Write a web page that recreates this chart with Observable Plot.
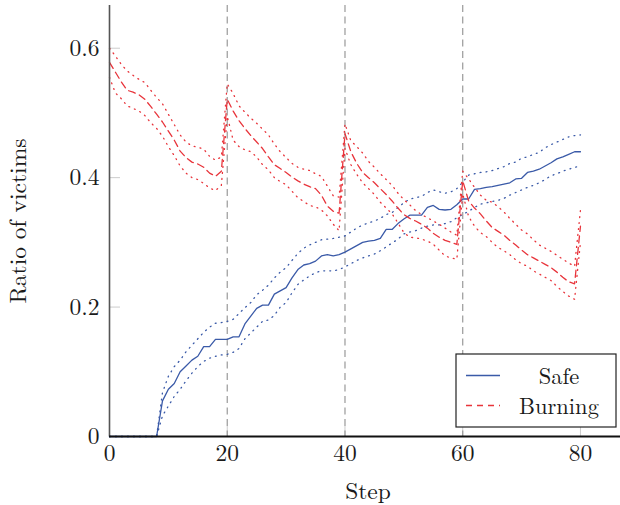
<!DOCTYPE html>
<html>
<head>
<meta charset="utf-8">
<script src="https://cdn.jsdelivr.net/npm/d3@7"></script>
<script src="https://cdn.jsdelivr.net/npm/@observablehq/plot@0.6"></script>
<style>
  html, body { margin: 0; padding: 0; background: #fff; }
  #wrap { width: 620px; height: 505px; }
  #wrap svg, #wrap svg text { font-family: 'Latin Modern Roman', 'Liberation Serif', serif; }
</style>
</head>
<body>
<div id="wrap"></div>
<script>
const steps = Array.from({length: 81}, (_, i) => i);
const markerSteps = [20, 40, 60];
const xTicks = [0, 20, 40, 60, 80];
const yTicks = [0, 0.2, 0.4, 0.6];
const yTickLabels = ["0", "0.2", "0.4", "0.6"];
const seriesNames = ["Safe", "Burning"];
const seriesColors = ["#3a5aa8", "#e8343b"];

const safeMean = [0,0,0,0,0,0,0,0,0,
  0.055,0.073,0.082,0.100,0.109,0.118,0.124,0.139,0.139,0.150,0.150,
  0.150,0.154,0.154,0.174,0.186,0.198,0.203,0.203,0.220,0.225,
  0.230,0.245,0.258,0.265,0.267,0.271,0.279,0.281,0.279,0.281,
  0.285,0.290,0.295,0.300,0.302,0.303,0.306,0.320,0.320,0.329,
  0.336,0.342,0.342,0.342,0.354,0.357,0.351,0.350,0.351,0.358,
  0.367,0.367,0.382,0.383,0.385,0.386,0.388,0.390,0.392,0.398,
  0.399,0.408,0.410,0.413,0.418,0.423,0.429,0.432,0.436,0.440,
  0.440];
const safeUpper = [0,0,0,0,0,0,0,0,0,
  0.068,0.093,0.108,0.118,0.131,0.141,0.151,0.161,0.169,0.175,0.176,
  0.178,0.181,0.190,0.199,0.207,0.219,0.226,0.234,0.245,0.254,
  0.261,0.272,0.283,0.291,0.296,0.300,0.304,0.305,0.306,0.308,
  0.310,0.316,0.322,0.327,0.330,0.333,0.337,0.343,0.346,0.354,
  0.361,0.367,0.369,0.371,0.377,0.381,0.378,0.376,0.378,0.383,
  0.393,0.404,0.406,0.408,0.409,0.411,0.414,0.417,0.422,0.424,
  0.430,0.432,0.436,0.439,0.446,0.451,0.455,0.459,0.463,0.465,
  0.466];
const safeLower = [0,0,0,0,0,0,0,0,0,
  0.032,0.047,0.062,0.073,0.086,0.098,0.108,0.116,0.121,0.124,0.126,
  0.127,0.130,0.136,0.151,0.160,0.169,0.178,0.180,0.187,0.200,
  0.207,0.222,0.235,0.242,0.248,0.253,0.256,0.256,0.256,0.258,
  0.262,0.267,0.272,0.276,0.279,0.282,0.287,0.293,0.299,0.305,
  0.313,0.316,0.318,0.322,0.325,0.327,0.327,0.329,0.332,0.338,
  0.343,0.348,0.354,0.359,0.361,0.363,0.365,0.368,0.373,0.377,
  0.381,0.385,0.388,0.392,0.397,0.403,0.406,0.410,0.413,0.416,
  0.418];

const burningMean = [0.578,0.563,0.548,0.535,0.532,0.528,0.521,0.510,0.498,0.486,
  0.472,0.458,0.441,0.431,0.424,0.421,0.416,0.407,0.402,0.410,
  0.521,0.503,0.488,0.476,0.465,0.455,0.445,0.432,0.420,0.414,
  0.408,0.401,0.395,0.390,0.386,0.383,0.373,0.356,0.348,0.345,
  0.468,0.440,0.422,0.408,0.400,0.392,0.383,0.374,0.364,0.353,
  0.343,0.337,0.333,0.328,0.322,0.314,0.308,0.303,0.300,0.297,
  0.395,0.364,0.353,0.344,0.333,0.323,0.317,0.311,0.303,0.296,
  0.288,0.281,0.276,0.271,0.266,0.261,0.254,0.246,0.239,0.236,
  0.325];
const burningUpper = [0.600,0.588,0.575,0.565,0.558,0.552,0.547,0.535,0.524,0.514,
  0.498,0.482,0.466,0.455,0.449,0.447,0.444,0.433,0.427,0.432,
  0.545,0.530,0.511,0.501,0.492,0.484,0.475,0.466,0.452,0.440,
  0.431,0.422,0.416,0.413,0.411,0.406,0.402,0.387,0.372,0.370,
  0.483,0.457,0.448,0.438,0.425,0.416,0.406,0.397,0.388,0.376,
  0.366,0.358,0.349,0.343,0.338,0.333,0.328,0.322,0.316,0.311,
  0.410,0.398,0.385,0.373,0.365,0.362,0.355,0.347,0.337,0.328,
  0.319,0.313,0.304,0.296,0.291,0.286,0.280,0.274,0.268,0.263,
  0.350];
const burningLower = [0.555,0.531,0.522,0.511,0.507,0.503,0.496,0.485,0.476,0.464,
  0.448,0.434,0.418,0.407,0.400,0.397,0.391,0.384,0.380,0.388,
  0.495,0.458,0.448,0.443,0.440,0.432,0.420,0.412,0.400,0.394,
  0.389,0.379,0.369,0.363,0.357,0.355,0.350,0.341,0.328,0.318,
  0.445,0.420,0.405,0.392,0.383,0.374,0.362,0.353,0.344,0.330,
  0.315,0.308,0.307,0.305,0.302,0.297,0.288,0.279,0.276,0.274,
  0.375,0.340,0.325,0.315,0.309,0.300,0.292,0.287,0.281,0.273,
  0.267,0.263,0.256,0.251,0.246,0.241,0.232,0.224,0.217,0.212,
  0.300];

const blue = seriesColors[0], red = seriesColors[1];
const dotted = "0.9,5.1";
const dashed = "7,4.5";
const font = "Latin Modern Roman";
const fs = 23.5;

const chart = Plot.plot({
  width: 620,
  height: 505,
  marginLeft: 109,
  marginRight: 0,
  marginTop: 5,
  marginBottom: 69,
  x: {domain: [0, 86.8]},
  y: {domain: [0, 0.666]},
  style: {fontFamily: font, fontSize: fs + "px", color: "#1a1a1a", background: "#fff", overflow: "visible"},
  marks: [
    Plot.axisX(xTicks, {tickSize: 0, tickPadding: 8, label: null, fontSize: fs, tickFormat: d => String(d)}),
    Plot.axisX(xTicks, {tickSize: -10, tickFormat: () => "", stroke: "#cccccc", label: null}),
    Plot.axisY(yTicks, {tickSize: 0, tickPadding: 10, label: null, fontSize: fs, tickFormat: d => yTickLabels[yTicks.indexOf(d)]}),
    Plot.axisY(yTicks, {tickSize: -11, tickFormat: () => "", stroke: "#cccccc", label: null}),
    Plot.ruleX(markerSteps, {stroke: "#999", strokeWidth: 1.2, strokeDasharray: "7,4.5"}),
    Plot.lineY(safeUpper, {x: steps, stroke: blue, strokeWidth: 1.3, strokeDasharray: dotted}),
    Plot.lineY(safeLower, {x: steps, stroke: blue, strokeWidth: 1.3, strokeDasharray: dotted}),
    Plot.lineY(safeMean, {x: steps, stroke: blue, strokeWidth: 1.3}),
    Plot.lineY(burningUpper, {x: steps, stroke: red, strokeWidth: 1.3, strokeDasharray: dotted}),
    Plot.lineY(burningLower, {x: steps, stroke: red, strokeWidth: 1.3, strokeDasharray: dotted}),
    Plot.lineY(burningMean, {x: steps, stroke: red, strokeWidth: 1.3, strokeDasharray: dashed}),
    Plot.ruleX([0], {stroke: "#555", strokeWidth: 1.6}),
    Plot.ruleY([0], {stroke: "#111", strokeWidth: 2.2}),
    Plot.text(["Step"], {text: d => d, frameAnchor: "bottom", textAnchor: "middle", lineAnchor: "bottom", dy: 62, dx: 3, fontSize: fs}),
    Plot.text(["Ratio of victims"], {text: d => d, frameAnchor: "left", textAnchor: "middle", rotate: -90, lineAnchor: "top", dx: -100, fontSize: fs})
  ]
});

d3.select(chart).attr("font-family", font);
d3.select(chart).selectAll("text").attr("font-family", font);

// Legend (inside the plot area, top-left corner at 456,354)
const lg = d3.select(chart).append("g").attr("transform", "translate(456,354)");
lg.append("rect").attr("width", 160).attr("height", 73)
  .attr("fill", "#fff").attr("stroke", "#222").attr("stroke-width", 1.2);
const legendStyles = [null, "6,5"];
const legendFs = 22.5;
seriesNames.forEach((name, i) => {
  const cy = 21.5 + i * 30;
  lg.append("line").attr("x1", 10).attr("x2", 44).attr("y1", cy).attr("y2", cy)
    .attr("stroke", seriesColors[i]).attr("stroke-width", 1.3)
    .attr("stroke-dasharray", legendStyles[i]);
  lg.append("text").attr("x", 103).attr("y", cy + 8)
    .attr("text-anchor", "middle").attr("fill", "#1a1a1a")
    .attr("font-family", font).attr("font-size", legendFs).text(name);
});

document.getElementById("wrap").appendChild(chart);
</script>
</body>
</html>
